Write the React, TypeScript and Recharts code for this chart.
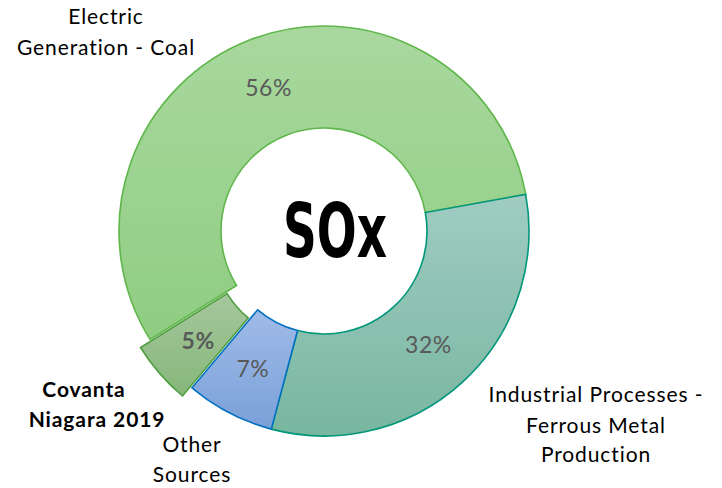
import React from 'react';
import { PieChart, Pie, Cell } from 'recharts';

const categories = [
  'Electric Generation - Coal',
  'Industrial Processes - Ferrous Metal Production',
  'Other Sources',
  'Covanta Niagara 2019',
];
const shares = [56, 32, 7, 5];
const percentLabels = ['56%', '32%', '7%', '5%'];
const explodedIndex = 3;

const data = categories.map((name, i) => ({ name, value: shares[i], label: percentLabels[i] }));

const fills = ['url(#gCoal)', 'url(#gInd)', 'url(#gOther)', 'url(#gCov)'];
const strokes = ['#5fb64b', '#00967a', '#0070c0', '#4f9f40'];

const W = 722;
const H = 488;
const CX = 324;
const CY = 231;
const INNER = 103;
const OUTER = 205;
const START = 211.9;
const END = START - 360;
const EXPLODE = 12.5;
const RADIAN = Math.PI / 180;
const FONT = "Lato, 'Open Sans', sans-serif";

const total = shares.reduce((a, b) => a + b, 0);
const before = shares.slice(0, explodedIndex).reduce((a, b) => a + b, 0);
const explodeMid = START - (360 * (before + shares[explodedIndex] / 2)) / total;
const exCX = CX + EXPLODE * Math.cos(explodeMid * RADIAN);
const exCY = CY - EXPLODE * Math.sin(explodeMid * RADIAN);

const makeLabel = (only: number | null) => (props: any) => {
  const idx = props.index;
  if (only === null && idx === explodedIndex) return null;
  if (only !== null && idx !== only) return null;
  const cx = props.cx;
  const cy = props.cy;
  const r = (props.innerRadius + props.outerRadius) / 2;
  const x = cx + r * Math.cos(-props.midAngle * RADIAN);
  const y = cy + r * Math.sin(-props.midAngle * RADIAN);
  return (
    <text
      key={'lbl' + idx}
      x={x}
      y={y}
      textAnchor="middle"
      dominantBaseline="central"
      fill="#595959"
      fontFamily={FONT}
      fontSize={23}
      letterSpacing={0.5}
      fontWeight={idx === explodedIndex ? 700 : 400}
    >
      {data[idx].label}
    </text>
  );
};

const textProps = {
  fontFamily: FONT,
  fontSize: 21,
  fill: '#000',
  textAnchor: 'middle' as const,
  letterSpacing: 0.9,
};

export default function App() {
  return (
    <div style={{ position: 'absolute', left: 0, top: 0, width: W, height: H, background: '#fff' }}>
      <PieChart width={W} height={H} margin={{ top: 0, right: 0, bottom: 0, left: 0 }}>
        <defs>
          <linearGradient id="gCoal" x1="0" y1="0" x2="0" y2="1">
            <stop offset="0%" stopColor="#a9d89e" />
            <stop offset="100%" stopColor="#8fcd82" />
          </linearGradient>
          <linearGradient id="gInd" x1="0" y1="0" x2="0" y2="1">
            <stop offset="0%" stopColor="#a0ccc2" />
            <stop offset="100%" stopColor="#78b6a0" />
          </linearGradient>
          <linearGradient id="gOther" x1="0" y1="0" x2="0" y2="1">
            <stop offset="0%" stopColor="#a0bbe8" />
            <stop offset="100%" stopColor="#7aa0d8" />
          </linearGradient>
          <linearGradient id="gCov" x1="0" y1="0" x2="0" y2="1">
            <stop offset="0%" stopColor="#a6c79d" />
            <stop offset="100%" stopColor="#86b77a" />
          </linearGradient>
        </defs>
        <Pie
          data={data}
          dataKey="value"
          nameKey="name"
          cx={CX}
          cy={CY}
          innerRadius={INNER}
          outerRadius={OUTER}
          startAngle={START}
          endAngle={END}
          isAnimationActive={false}
          labelLine={false}
          label={makeLabel(null)}
        >
          {data.map((d, i) => (
            <Cell
              key={d.name}
              fill={i === explodedIndex ? 'none' : fills[i]}
              stroke={i === explodedIndex ? 'none' : strokes[i]}
              strokeWidth={1.6}
            />
          ))}
        </Pie>
        <Pie
          data={data}
          dataKey="value"
          nameKey="name"
          cx={exCX}
          cy={exCY}
          innerRadius={INNER}
          outerRadius={OUTER}
          startAngle={START}
          endAngle={END}
          isAnimationActive={false}
          labelLine={false}
          label={makeLabel(explodedIndex)}
        >
          {data.map((d, i) => (
            <Cell
              key={d.name}
              fill={i === explodedIndex ? fills[i] : 'none'}
              stroke={i === explodedIndex ? strokes[i] : 'none'}
              strokeWidth={1.6}
            />
          ))}
        </Pie>
        <text x={335} y={257} textAnchor="middle" fontFamily="'DejaVu Sans Condensed', 'DejaVu Sans', sans-serif" fontWeight={700} fontSize={74} textLength={104} lengthAdjust="spacingAndGlyphs" fill="#000">
          SOx
        </text>
        <text {...textProps} x={106} y={24}>Electric</text>
        <text {...textProps} x={106} y={55}>Generation - Coal</text>
        <text {...textProps} x={596} y={402}>Industrial Processes -</text>
        <text {...textProps} x={596} y={433}>Ferrous Metal</text>
        <text {...textProps} x={596} y={462}>Production</text>
        <text {...textProps} x={84} y={397} fontWeight={700}>Covanta</text>
        <text {...textProps} x={97} y={427} fontWeight={700}>Niagara 2019</text>
        <text {...textProps} x={192} y={452}>Other</text>
        <text {...textProps} x={192} y={482}>Sources</text>
      </PieChart>
    </div>
  );
}
